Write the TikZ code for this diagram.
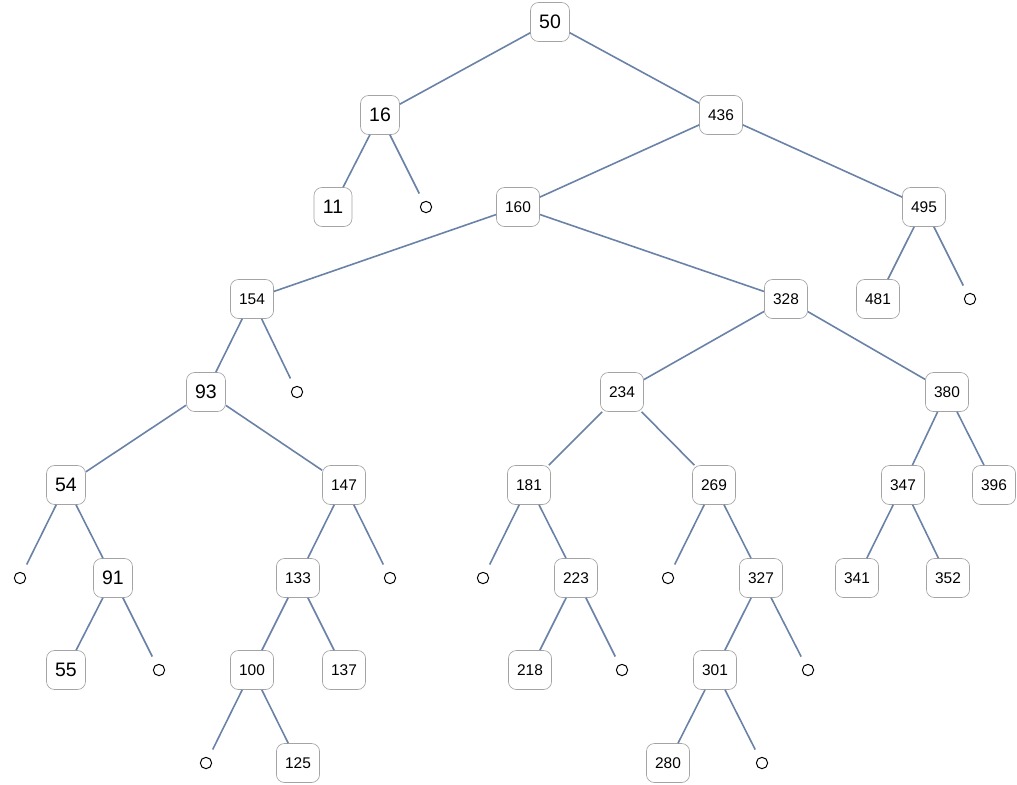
\documentclass[tikz,border=0pt]{standalone}
\usepackage{fontspec}
\setmainfont{Liberation Sans}
\usetikzlibrary{positioning}

\definecolor{edgeblue}{HTML}{6A82A7}
\definecolor{boxgray}{HTML}{A4A4A4}

\begin{document}
\begin{tikzpicture}[x=0.75pt,y=-0.75pt]
  \tikzstyle{vertex}=[rectangle,rounded corners=6pt,draw=boxgray,line width=0.5pt,fill=white,
    minimum width=28.5pt,minimum height=29.25pt,inner xsep=6.5pt,inner ysep=0pt]
  \tikzstyle{big}=[vertex,font=\fontsize{14.6}{16}\selectfont]
  \tikzstyle{small}=[vertex,font=\fontsize{11.6}{13}\selectfont]
  \tikzstyle{nil}=[circle,draw=black,line width=0.75pt,minimum size=8.5pt,inner sep=0pt,outer sep=7pt]
  \tikzstyle{link}=[draw=edgeblue,line width=1.2pt]
  \useasboundingbox (0,0) rectangle (1017,785);

  % level 0 and 1
  \node[big] (n50) at (550,22) {50};
  \node[big] (n16) at (380,115) {16};
  \node[small] (n436) at (721,115) {436};

  % level 2
  \node[big] (n11) at (333,207) {11};
  \node[nil] (e16) at (426,207) {};
  \node[small] (n160) at (518,207) {160};
  \node[small] (n495) at (924,207) {495};

  % level 3
  \node[small] (n154) at (252,299) {154};
  \node[small] (n328) at (786,299) {328};
  \node[small] (n481) at (878,299) {481};
  \node[nil] (e495) at (970,299) {};

  % level 4
  \node[big] (n93) at (206,392) {93};
  \node[nil] (e154) at (297,392) {};
  \node[small] (n234) at (622,392) {234};
  \node[small] (n380) at (947,392) {380};

  % level 5
  \node[big] (n54) at (66,485) {54};
  \node[small] (n147) at (344,485) {147};
  \node[small] (n181) at (529,485) {181};
  \node[small] (n269) at (714,485) {269};
  \node[small] (n347) at (903,485) {347};
  \node[small] (n396) at (994,485) {396};

  % level 6
  \node[nil] (e54) at (20,578) {};
  \node[big] (n91) at (113,578) {91};
  \node[small] (n133) at (298,578) {133};
  \node[nil] (e147) at (390,578) {};
  \node[nil] (e181) at (483,578) {};
  \node[small] (n223) at (576,578) {223};
  \node[nil] (e269) at (668,578) {};
  \node[small] (n327) at (761,578) {327};
  \node[small] (n341) at (857,578) {341};
  \node[small] (n352) at (948,578) {352};

  % level 7
  \node[big] (n55) at (66,670) {55};
  \node[nil] (e91) at (159,670) {};
  \node[small] (n100) at (252,670) {100};
  \node[small] (n137) at (344,670) {137};
  \node[small] (n218) at (530,670) {218};
  \node[nil] (e223) at (622,670) {};
  \node[small] (n301) at (715,670) {301};
  \node[nil] (e327) at (808,670) {};

  % level 8
  \node[nil] (e100) at (206,763) {};
  \node[small] (n125) at (298,763) {125};
  \node[small] (n280) at (668,763) {280};
  \node[nil] (e301) at (762,763) {};

  % edges
  \draw[link] (n16) -- (n50) -- (n436);
  \draw[link] (n11) -- (n16) -- (e16);
  \draw[link] (n160) -- (n436) -- (n495);
  \draw[link] (n154) -- (n160) -- (n328);
  \draw[link] (n481) -- (n495) -- (e495);
  \draw[link] (n93) -- (n154) -- (e154);
  \draw[link] (n234) -- (n328) -- (n380);
  \draw[link] (n54) -- (n93) -- (n147);
  \draw[link] (n181) -- (n234) -- (n269);
  \draw[link] (n347) -- (n380) -- (n396);
  \draw[link] (e54) -- (n54) -- (n91);
  \draw[link] (n133) -- (n147) -- (e147);
  \draw[link] (e181) -- (n181) -- (n223);
  \draw[link] (e269) -- (n269) -- (n327);
  \draw[link] (n341) -- (n347) -- (n352);
  \draw[link] (n55) -- (n91) -- (e91);
  \draw[link] (n100) -- (n133) -- (n137);
  \draw[link] (n218) -- (n223) -- (e223);
  \draw[link] (n301) -- (n327) -- (e327);
  \draw[link] (e100) -- (n100) -- (n125);
  \draw[link] (n280) -- (n301) -- (e301);
\end{tikzpicture}
\end{document}
